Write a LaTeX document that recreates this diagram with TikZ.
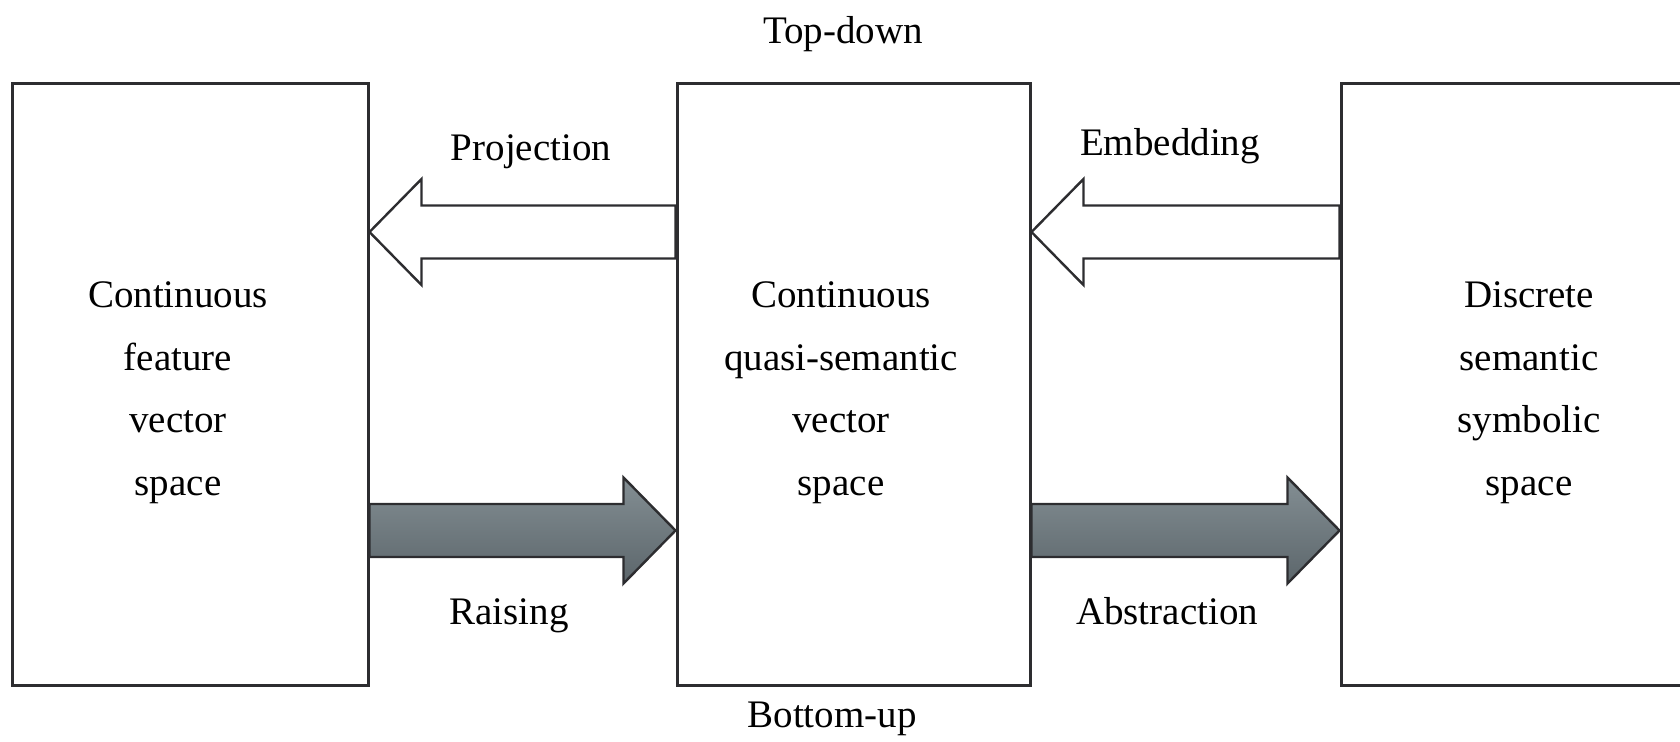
\documentclass[tikz,border=0pt]{standalone}
\usepackage{fontspec}
\setmainfont{Liberation Serif}
\usetikzlibrary{calc}

\definecolor{edge}{RGB}{45,45,48}
\definecolor{slatetop}{RGB}{131,142,147}
\definecolor{slatebot}{RGB}{92,102,107}

% Block arrow from the middle of its tail (#2) to its tip (#3), style #1
\newcommand\blockarrow[3]{%
  \draw[#1] let \p1=(#2), \p2=(#3), \n1={sign(\x2-\x1)} in
    (\x1,{\y1+13.25pt}) -- ({\x2-26pt*(\n1)},{\y1+13.25pt})
    -- ({\x2-26pt*(\n1)},{\y1+26.5pt}) -- (\x2,\y1)
    -- ({\x2-26pt*(\n1)},{\y1-26.5pt}) -- ({\x2-26pt*(\n1)},{\y1-13.25pt})
    -- (\x1,{\y1-13.25pt}) -- cycle;}

\begin{document}
\begin{tikzpicture}[x=0.5pt,y=-0.5pt,
  spacebox/.style={draw=edge, line width=1.5pt, fill=white, inner sep=0pt,
    minimum height=301pt},
  spacetext/.style={align=center, inner sep=0pt,
    font=\fontsize{19.5pt}{31.25pt}\selectfont},
  lbl/.style={anchor=base, inner sep=0pt,
    font=\fontsize{19.5pt}{23pt}\selectfont},
  hollowarrow/.style={draw=edge, line width=1.2pt, fill=white, line join=miter},
  filledarrow/.style={draw=edge, line width=1.2pt, top color=slatetop,
    bottom color=slatebot, line join=miter}]

\useasboundingbox (0,0) rectangle (1680,741);
\clip (0,0) rectangle (1680,741);

% the three spaces
\node[spacebox, minimum width=178pt]   (left)  at (190,384) {};
\node[spacebox, minimum width=176.5pt] (mid)   at (853.5,384) {};
\node[spacebox, minimum width=190pt]   (right) at (1531,384) {};

\node[spacetext] (lefttext)  at (178,392.5)  {Continuous\\feature\\vector\\space};
\node[spacetext] (midtext)   at (841,392.5)  {Continuous\\quasi-semantic\\vector\\space};
\node[spacetext] (righttext) at (1529,392.5) {Discrete\\semantic\\symbolic\\space};

% rows of the arrows
\coordinate (upper) at (0,232);
\coordinate (lower) at (0,530.5);

% top-down: hollow arrows
\blockarrow{hollowarrow}{mid.west |- upper}{left.east |- upper}
\blockarrow{hollowarrow}{right.west |- upper}{mid.east |- upper}

% bottom-up: shaded arrows
\blockarrow{filledarrow}{left.east |- lower}{mid.west |- lower}
\blockarrow{filledarrow}{mid.east |- lower}{right.west |- lower}

% labels
\node[lbl] (topdown)  at (843,43)   {Top-down};
\node[lbl] (bottomup) at (832,727)  {Bottom-up};
\node[lbl] (proj)     at (531,160)  {Projection};
\node[lbl] (emb)      at (1170,155) {Embedding};
\node[lbl] (raise)    at (509,624)  {Raising};
\node[lbl] (abstr)    at (1167,624) {Abstraction};
\end{tikzpicture}
\end{document}
